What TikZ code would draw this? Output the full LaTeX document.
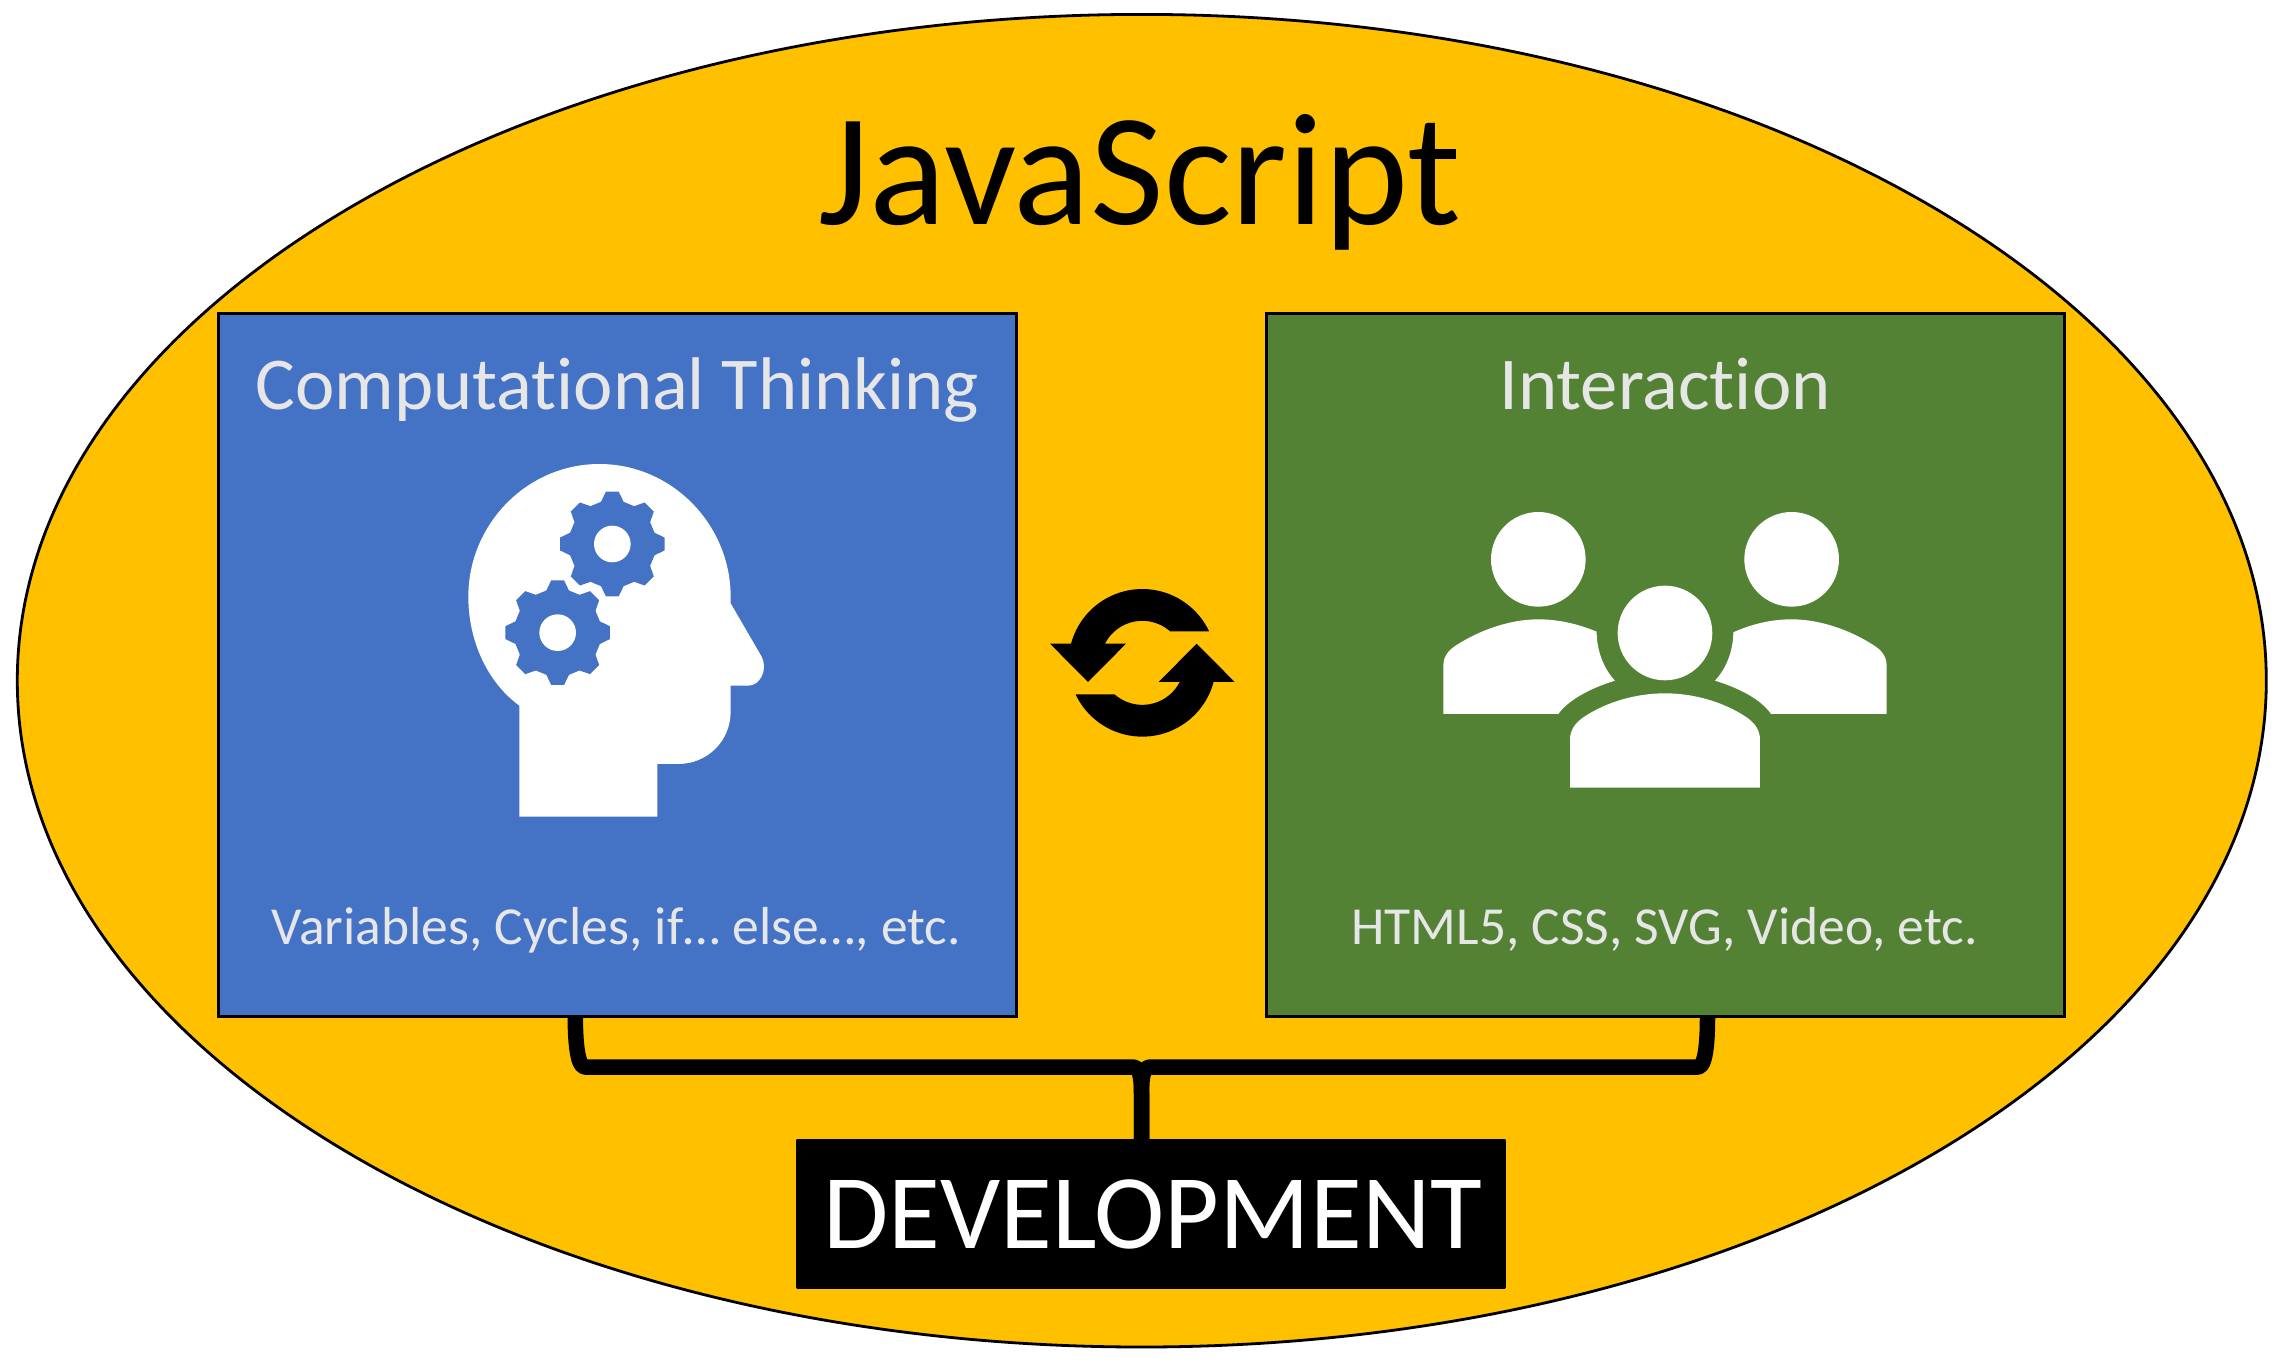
\documentclass[tikz,border=0pt]{standalone}
\usepackage{fontspec}
\setmainfont{Carlito}[Ligatures=CommonOff]
\definecolor{goldfill}{HTML}{FFC000}
\definecolor{bluefill}{HTML}{4472C4}
\definecolor{greenfill}{HTML}{548235}
\definecolor{paletext}{HTML}{E7E6E6}
\tikzset{
  panel/.style={draw=black,line width=3pt,inner sep=0pt,minimum width=798pt,minimum height=703pt},
  paneltitle/.style={text=paletext,anchor=base,inner sep=0pt,font=\fontsize{74.6}{88}\selectfont},
  panelnote/.style={text=paletext,anchor=base,inner sep=0pt,font=\fontsize{53.5}{64}\selectfont},
  bracestroke/.style={draw=black,line width=15.5pt,line join=round},
  iconhole/.style={fill=white},
}
\newcommand{\gearicon}[2]{%
  \begin{scope}[shift={(#1,#2)}]
    \fill[bluefill] (-15:131) \foreach \a in {0,45,...,315} {
      -- ({\a-15}:131) -- ({\a-7}:158) -- ({\a+7}:158) -- ({\a+15}:131) } -- cycle;
    \fill[iconhole] (0,0) circle[radius=55];
  \end{scope}}
\begin{document}
\begin{tikzpicture}[x=1pt,y=-1pt]
\useasboundingbox (0,0) rectangle (2287,1363);
\fill[white] (0,0) rectangle (2287,1363);
% outer ellipse
\fill[goldfill,draw=black,line width=2.8pt] (1141.8,680.7) ellipse[x radius=1124.5,y radius=666.3];
\node[anchor=base,inner sep=0pt,font=\fontsize{160}{192}\selectfont] (title) at (1140,224) {JavaScript};
% panels
\node[panel,fill=bluefill] (blue) at (617.7,664.6) {};
\node[panel,fill=greenfill] (green) at (1665.6,664.6) {};
\node[paneltitle] (bluetitle) at (617.4,409) {Computational Thinking};
\node[paneltitle] (greentitle) at (1665,409) {Interaction};
\node[panelnote] (bluenote) at (616.5,944.3) {Variables, Cycles, if… else…, etc.};
\node[panelnote] (greennote) at (1664.5,944.3) {HTML5, CSS, SVG, Video, etc.};
% head icon
\begin{scope}[shift={(440,440)},scale=0.3333]
  \fill[white] (238,1130) -- (238,797)
    .. controls (140,725) and (85,600) .. (85,470)
    .. controls (85,253) and (261,72) .. (478,72)
    .. controls (695,72) and (872,253) .. (872,470)
    -- (872,490) -- (965,650)
    .. controls (985,690) and (960,737) .. (925,737)
    -- (872,737) -- (872,815)
    .. controls (872,905) and (800,972) .. (715,972)
    -- (652,972) -- (652,1130) -- cycle;
  \gearicon{517}{312}
  \gearicon{353}{578}
\end{scope}
% people icon
\begin{scope}[shift={(1430,500)},scale=0.3333]
  \fill[white] (325,178) circle[radius=142];
  \fill[white] (1085,178) circle[radius=142];
  \fill[white] (705,399) circle[radius=142];
  \fill[white] (420,863) -- (420,720)
    .. controls (420,690) and (435,670) .. (460,652)
    .. controls (530,605) and (620,580) .. (705,580)
    .. controls (790,580) and (880,605) .. (950,652)
    .. controls (975,670) and (990,690) .. (990,720)
    -- (990,863) -- cycle;
  \fill[white] (40,642) -- (40,497)
    .. controls (40,470) and (55,450) .. (80,435)
    .. controls (150,390) and (240,358) .. (325,358)
    .. controls (385,358) and (445,372) .. (500,395)
    .. controls (500,450) and (520,505) .. (555,542)
    .. controls (480,565) and (415,600) .. (385,642) -- cycle;
  \fill[white] (1370,642) -- (1370,497)
    .. controls (1370,470) and (1355,450) .. (1330,435)
    .. controls (1260,390) and (1170,358) .. (1085,358)
    .. controls (1025,358) and (965,372) .. (910,397)
    .. controls (910,450) and (890,505) .. (855,542)
    .. controls (930,565) and (995,600) .. (1023,642) -- cycle;
\end{scope}
% cycle icon
\begin{scope}[shift={(1030,570)},scale=0.3333]
  \foreach \r in {0,180} {
    \fill[black,rotate around={\r:(337,278.5)}]
      plot[domain=-25.3:-165,samples=40] ({337+221.5*cos(\x)},{278.5+221.5*sin(\x)})
      -- (60,221) -- (174,336) -- (288,221) -- (225,221)
      -- plot[domain=-152.8:-48.7,samples=40] ({337+126*cos(\x)},{278.5+126*sin(\x)})
      -- cycle;
  }
\end{scope}
% development box
\node[fill=black,inner sep=0pt,rounded corners=1pt,minimum width=709.8pt,minimum height=149.7pt] (dev) at (1151,1213.9) {};
\node[anchor=base,inner sep=0pt,text=white,font=\fontsize{106}{127}\selectfont] (devlabel) at (1153,1248.3) {DEVELOPMENT};
% brace
\coordinate (bleft) at (575.3,1017);
\coordinate (bright) at (1707.5,1017);
\coordinate (bstem) at (1141.5,1140);
\draw[bracestroke] (bleft) .. controls (575.3,1045) and (578,1067) .. (585,1067)
  -- (1132,1067) .. controls (1139,1067) and (1141.5,1073) .. (1141.5,1095) -- (bstem);
\draw[bracestroke] (bright) .. controls (1707.5,1045) and (1705,1067) .. (1698,1067)
  -- (1151,1067) .. controls (1144,1067) and (1141.5,1073) .. (1141.5,1095) -- (bstem);
\end{tikzpicture}
\end{document}
